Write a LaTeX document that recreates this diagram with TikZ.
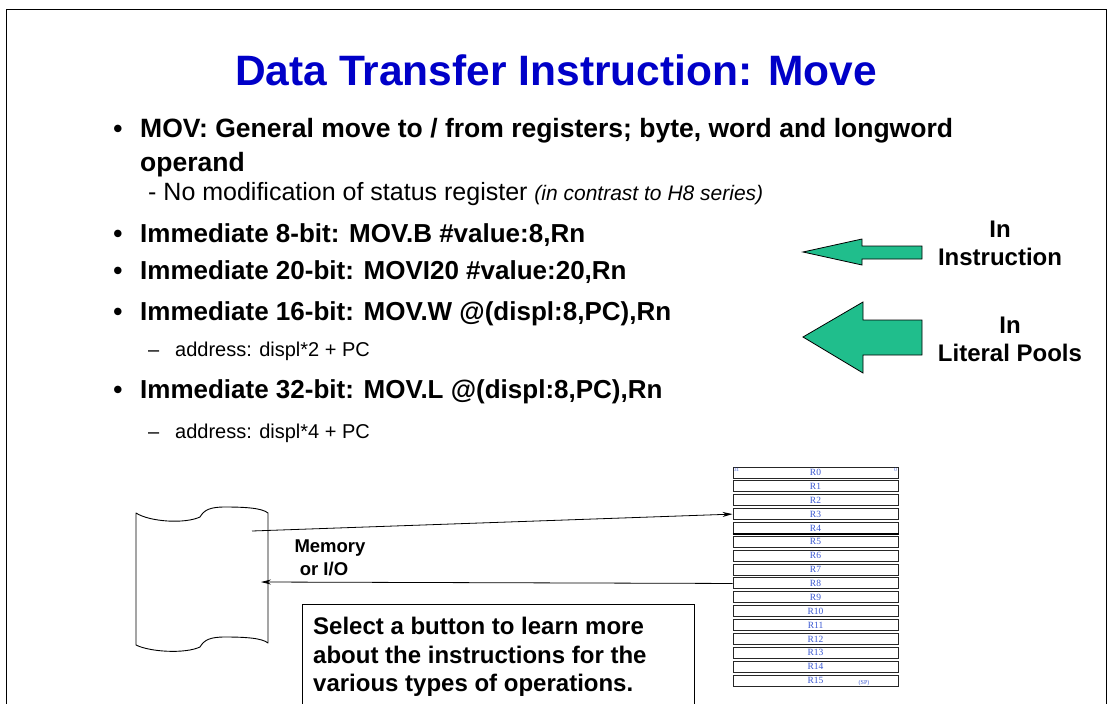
\documentclass[tikz,border=0pt]{standalone}
\usepackage{fontspec}
\setmainfont{Liberation Sans}
\newfontfamily\regfont{Liberation Serif}
\usetikzlibrary{arrows.meta}
\definecolor{titleblue}{RGB}{0,0,200}
\definecolor{arrowgreen}{RGB}{32,190,140}
\definecolor{regblue}{RGB}{60,90,210}
\newcommand{\fs}[2][1.15]{\fontsize{#2}{#1\dimexpr #2pt\relax}\selectfont}
\tikzset{
  bullet/.style={anchor=base west, inner sep=0pt, font=\fs{26}\bfseries},
  bulletdot/.style={anchor=base, inner sep=0pt, font=\fs{26}\bfseries},
  subline/.style={anchor=base west, inner sep=0pt, font=\fs{20}},
  fatarrow/.style={fill=arrowgreen, draw=black, line width=0.8pt, line join=miter},
  sidelabel/.style={align=center, inner sep=0pt, font=\fontsize{24}{28}\selectfont\bfseries},
  reg/.style={draw=black!85, line width=1pt, minimum width=165pt, minimum height=11pt,
    inner sep=0pt, font=\regfont\fs{9.5}, text=regblue, fill=white},
  link/.style={line width=0.8pt, -{Stealth[length=10pt,width=5pt]}},
}
\begin{document}
\begin{tikzpicture}[x=1pt, y=-1pt]
\useasboundingbox (0,0) rectangle (1109,704);
\clip (0,0) rectangle (1109,704);

% slide frame
\draw[line width=1.5pt] (6.5,740) -- (6.5,9.5) -- (1106.5,9.5) -- (1106.5,740);

% title
\node[font=\fs{42.5}\bfseries, text=titleblue, inner sep=0pt] (title) at (556,70) {Data Transfer Instruction: Move};

% bullet list
\node[bulletdot] (b1) at (118,137) {\textbullet};
\node[bullet, font=\fs{26.5}\bfseries] (t1) at (140,137) {MOV: General move to / from registers; byte, word and longword};
\node[bullet, font=\fs{26.5}\bfseries] (t1b) at (140,171) {operand};
\node[anchor=base west, inner sep=0pt, font=\fs{25}] (t1c) at (148,200)
  {- No modification of status register {\itshape\fs{21}(in contrast to H8 series)}};
\node[bulletdot] (b2) at (118,242) {\textbullet};
\node[bullet] (t2) at (140,242) {Immediate 8-bit: MOV.B \#value:8,Rn};
\node[bulletdot] (b3) at (118,279) {\textbullet};
\node[bullet] (t3) at (140,279) {Immediate 20-bit: MOVI20 \#value:20,Rn};
\node[bulletdot] (b4) at (118,320) {\textbullet};
\node[bullet] (t4) at (140,320) {Immediate 16-bit: MOV.W @(displ:8,PC),Rn};
\node[subline] (d4) at (148,356) {--};
\node[subline] (t4b) at (175,356) {address: displ*2 + PC};
\node[bulletdot] (b5) at (118,398) {\textbullet};
\node[bullet] (t5) at (140,398) {Immediate 32-bit: MOV.L @(displ:8,PC),Rn};
\node[subline] (d5) at (148,438) {--};
\node[subline] (t5b) at (175,438) {address: displ*4 + PC};

% block arrows
\draw[fatarrow] (803,252) -- (862,239) -- (862,246) -- (922,246) -- (922,259) -- (862,259) -- (862,265) -- cycle;
\draw[fatarrow] (803,337) -- (863,302) -- (863,320) -- (922,320) -- (922,355) -- (863,355) -- (863,373) -- cycle;
\node[sidelabel] (lab1) at (1000,243) {In\\Instruction};
\node[sidelabel] (lab2) at (1010,339) {In\\Literal Pools};

% memory / I-O symbol
\draw[line width=0.9pt, line join=round]
  (136,513) .. controls (150,522) and (185,524) .. (200,517)
  .. controls (204,510) and (210,507) .. (225,507)
  .. controls (245,507) and (262,508) .. (268,513)
  -- (268,643)
  .. controls (262,638) and (245,637) .. (225,637)
  .. controls (210,637) and (204,640) .. (200,647)
  .. controls (185,654) and (150,652) .. (136,645)
  -- cycle;
\coordinate (memout) at (252,531);
\coordinate (memin) at (261,582);
\node[font=\fs{18.5}\bfseries, inner sep=0pt] (memlab1) at (330,548) {Memory};
\node[font=\fs{18.5}\bfseries, inner sep=0pt] (memlab2) at (324,569) {or I/O};

% register file R0..R15
\foreach \i in {0,...,15} {
  \node[reg] (r\i) at (815.5,{472.5+13.87*\i}) {R\i};
}
\draw[line width=1.8pt] (r4.south west) -- (r4.south east);
\node[font=\regfont\fs{5}, text=regblue, inner sep=0pt, anchor=north west] (bit31) at (734,467.5) {31};
\node[font=\regfont\fs{5}, text=regblue, inner sep=0pt, anchor=north east] (bit0) at (897,467.5) {0};
\node[font=\regfont\fs{6}, text=regblue, inner sep=0pt] (sp) at (864,683) {(SP)};

% transfers
\draw[link] (memout) -- (r3.west);
\draw[link] (r8.west) -- (memin);

% note box
\draw[line width=0.9pt] (302,720) -- (302,604) -- (694,604) -- (694,720);
\node[anchor=north west, align=left, inner sep=0pt, font=\fontsize{24}{28.5}\selectfont\bfseries] (note) at (313,617)
  {Select a button to learn more\\about the instructions for the\\various types of operations.};
\end{tikzpicture}
\end{document}
